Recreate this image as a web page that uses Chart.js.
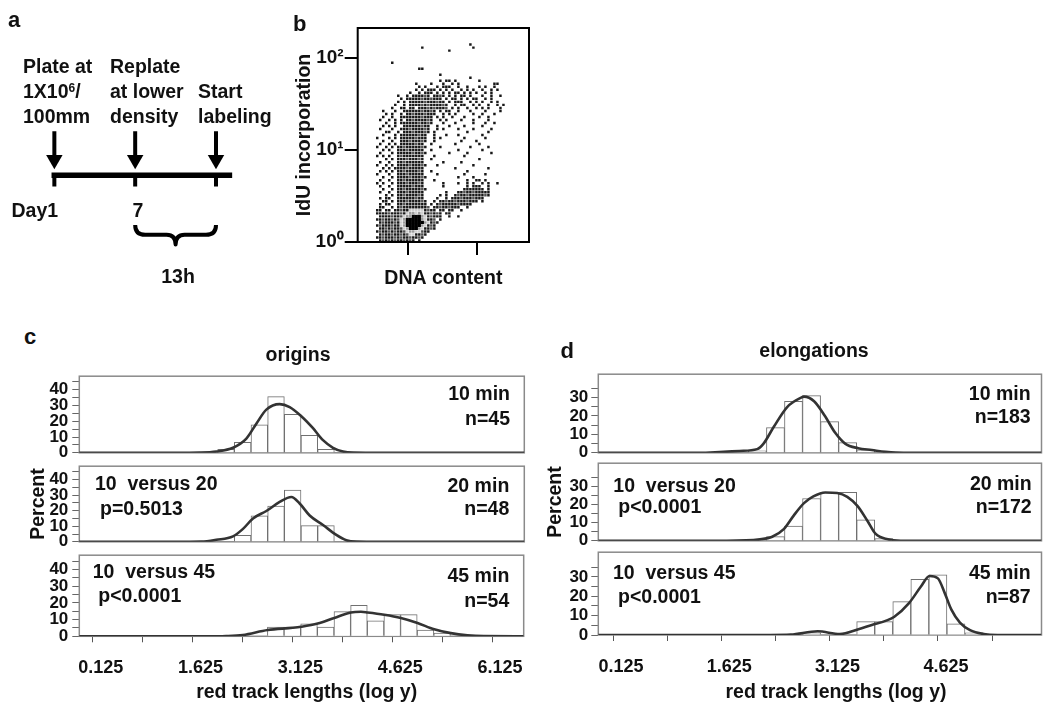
<!DOCTYPE html>
<html lang="en">
<head>
<meta charset="UTF-8">
<title>Replication labeling figure</title>
<script src="https://cdn.jsdelivr.net/npm/chart.js"></script>
<style>
  body { margin: 0; background: #fff; }
  #fig { position: relative; width: 1050px; height: 714px; overflow: hidden;
         font-family: "Liberation Sans", Arial, sans-serif; font-weight: bold; color: #111; }
  #fig canvas { position: absolute; }
  .t { position: absolute; white-space: pre; font-size: 19.5px; line-height: 25px; }
  .t sup { font-size: 12px; vertical-align: 6px; line-height: 0; }
</style>
</head>
<body>
<div id="fig"></div>
<script>
// ---------------- panel a : schematic timeline ----------------
const stepPos = [0, 1, 2];            // plate, replate, start labeling
const dayLabels = ['Day1', '7', ''];
const braceFrom = 1, braceTo = 2;
const braceLabel = '13h';

// ---------------- panel b : IdU incorporation vs DNA content ----------------
const dnaRange = [0.54, 5.51];
const dnaTicks = [2, 4];
const iduRange = [1, 212];
const iduTicks = [1, 10, 100];
const iduTickLabels = ['10⁰', '10¹', '10²'];
const cytoLogTop = 2.326;   // log10 of the top of the IdU axis
const cytoCols = 57, cytoRows = 71;
// density, one char per cell (top row = highest IdU)
// '#' dark dot, '+' grey dot, 'o' / '-' light halo, '@' black core
const cytoGrid = [
  '', '', '', '', '',
  '          |          |          |       #',
  '          |          | #        |        #',
  '          |          |          |#',
  '', '', '',
  '          | #',
  '',
  '          |          |##',
  '',
  '          |          |       #',
  '          |          |          |       #',
  '          |          |       # #|# #       |#',
  '          |         #|    #   # | # #      |     ##',
  '          |          |# #   # ##|#  #  #   |# #  #',
  '          |         #| # ### # #| #  # # # | #  # #',
  '          |       #  |# ### # # |# ## # # #|  # #',
  '          |   #  # ##|##+# ##+# |# # ## #  | #  #  #',
  '          |    # ####|#+##+### #| ## # # ##|  # # ',
  '          |   # # ###|##+###+## |# ###  # #| #  # #',
  '          |  #  # ###|#+#+####+#|  # ##  # |#  #  # #',
  '          | #  ## ## |###+#+###+| # #  #  #| # #   #',
  '        # |  #  #####|#+##+# # #|#  #   #  |  #    #',
  '         #| #  # ##+#|##+###  # |# #     # | #   #',
  '        # | #  ######|#+### # # | #   #    |#  # ',
  '       #  |# # # ##+#|###+#  # #|    #   # |   #',
  '         #|  # ######|+##+#   # |  #     # |  #  #',
  '        # |# #  #####|#+##  #   |#    #    | #',
  '       #  | #  ###+##|##+#  # # |   #    # |    #',
  '         #|#  # ###+#|##+# #    |      #   |   #',
  '        # |  # ######|+##  #   #|   #      | # ',
  '      #   |# # #####+|###  # #  |     #    |  # ',
  '        # | #  ###+##|#+#  #    |    #    #|',
  '       #  |# # #####+|##  #     |  #       |#  ',
  '      #  #| # ##+####|#+#    #  |       #  |   #',
  '        # |#  ###+###|##  #     |   #      | #',
  '       #  | # #####+#|#+#       |#     #   |    #',
  '      # # |#  #+#####|##   #    |     #    |',
  '         #| # ###+###|+#  #     |          |#',
  '       #  |#  ##+####|##      # |    #     |',
  '      #  #| # ####+##|#+#   #   |        # |',
  '        # |# ####+###|##        |  #       |   #',
  '       # #| # ##+####|+#  #     |      #   |',
  '      #   |#  ###+###|##    #   |     #    |  #',
  '        # | # ####+##|#+#       |   #    # |',
  '       #  |#  ##+####|##   #    |      #  #|# #',
  '      # # | # ###+###|+#      # |   #  # # | # #  #',
  '       #  |#  #####+#|##      # |      # ##|#  #',
  '        # | # ##+####|#+#       |     #####|## #',
  '       #  |#  ###+###|##       #|   ##+##+#|####',
  '         #| # ##+####|+#     # #|  #+##+###|##+#',
  '       # #|#  ######+|##    #  #| ###+###+#|##',
  '        ##| # ###+###|#+#  # ##+|##+###+###| #',
  '       # #|#  ##+####|### # #+##|###+####  |',
  '       ## | # #+#####|###+ ##+##|+###  #   |',
  '      ## #|# ##+##---|--#+## ## |##  #     |',
  '      ####|+###+#-oo-|o-##+#+# #|#         |',
  '       ###|#+##+-oo@@|@o-#+###  |#  #      |',
  '      ##+#|#+#+-o@@@@|@o-##+ #  |',
  '       #+#|##+#-o@@@@|@@o-#+#   |',
  '      #+##|#+##-o@@@@|@o-#+#    |',
  '       ##+|#+##+-o@@@|o-##+#    |',
  '      #+##|+#+##+-oo-|-+##      |',
  '       #+#|#+##+#+--#|#+#       |',
  '      ##+#|##+#+##+##|+#        |',
  '       #+#|+#+##+#+# |#         |'
];

// ---------------- panels c / d : red track length histograms ----------------
const binWidth = 0.25;
const trackTicks = [0.125, 0.875, 1.625, 2.375, 3.125, 3.875, 4.625, 5.375, 6.125];
const originsRange = [-0.076, 6.6];
const elongRange = [-0.079, 6.06];
const originsPctTicks = [0, 5, 10, 15, 20, 25, 30, 35, 40, 45];
const elongPctTicks = [0, 5, 10, 15, 20, 25, 30, 35];

const origins10Start = 2.0;
const origins10Pct = [2.2, 6.7, 17.8, 35.6, 24.4, 11.1, 2.2];
const origins10CurveX = [-0.08, 1.5, 1.73, 1.98, 2.23, 2.43, 2.58, 2.73, 2.93, 3.08, 3.255, 3.43, 3.58, 3.73, 3.88, 4.03, 4.3, 6.6];
const origins10CurveY = [0, 0, 0.1, 0.8, 3.2, 9, 18.5, 27.4, 30.9, 29, 23.2, 15.6, 8, 3.2, 0.8, 0.1, 0, 0];

const origins20Start = 2.25;
const origins20Pct = [4.2, 16.7, 22.9, 33.3, 10.4, 10.4];
const origins20CurveX = [-0.08, 1.5, 1.755, 1.98, 2.23, 2.38, 2.53, 2.73, 2.93, 3.105, 3.23, 3.38, 3.58, 3.78, 3.93, 4.08, 4.3, 6.6];
const origins20CurveY = [0, 0, 0.1, 1.3, 3.5, 8.3, 15, 19.8, 25.6, 28.8, 24.6, 16.9, 10.8, 4.4, 1, 0.1, 0, 0];

const origins45Start = 2.75;
const origins45Pct = [5.6, 5.6, 7.4, 5.6, 14.8, 18.5, 9.3, 13.0, 13.0, 3.7, 1.9];
const origins45CurveX = [-0.08, 2.0, 2.13, 2.38, 2.755, 3.13, 3.255, 3.505, 3.755, 4.005, 4.155, 4.255, 4.505, 4.755, 5.005, 5.255, 5.505, 5.755, 6.0, 6.6];
const origins45CurveY = [0, 0, 0.1, 0.8, 3.8, 5.1, 5.7, 7.6, 11.0, 14.3, 14.7, 14.3, 12.95, 11.0, 8.0, 4.2, 1.9, 0.6, 0.1, 0];

const elong10Start = 2.0;
const elong10Pct = [1.1, 13.7, 27.9, 31.1, 16.9, 5.5, 1.6];
const elong10CurveX = [-0.08, 1.32, 1.6, 1.88, 2.12, 2.21, 2.35, 2.54, 2.73, 2.77, 2.91, 3.06, 3.20, 3.34, 3.52, 3.71, 3.90, 4.04, 4.3, 6.06];
const elong10CurveY = [0, 0, 0.4, 1, 2, 5, 14, 25, 30, 30.5, 28, 20, 11, 5, 2.5, 1.5, 0.5, 0.1, 0, 0];

const elong20Start = 2.0;
const elong20Pct = [0.6, 2.3, 8.1, 23.3, 26.7, 26.7, 11.6, 1.2];
const elong20CurveX = [-0.08, 1.70, 2.16, 2.33, 2.49, 2.63, 2.77, 2.90, 3.065, 3.23, 3.37, 3.51, 3.65, 3.76, 3.93, 4.11, 4.4, 6.06];
const elong20CurveY = [0, 0, 0.8, 2.2, 6.4, 14, 20.7, 24.4, 26.6, 26.3, 24.2, 19.2, 10.9, 3.9, 0.8, 0, 0, 0];

const elong45Start = 2.75;
const elong45Pct = [1.1, 0, 0, 6.9, 6.9, 17.2, 28.7, 31.0, 5.7, 1.1];
const elong45CurveX = [-0.08, 2.3, 2.587, 2.96, 3.267, 3.524, 3.71, 3.90, 4.017, 4.228, 4.39, 4.51, 4.625, 4.72, 4.81, 4.93, 5.07, 5.26, 5.45, 6.06];
const elong45CurveY = [0, 0, 0.2, 1.9, 0.5, 3.0, 5.2, 7.3, 9.3, 16.6, 25, 30.4, 29.2, 21.6, 13.2, 6.4, 2.5, 0.5, 0, 0];

// ---------------- set-up ----------------
const FONT = '"Liberation Sans", Arial, sans-serif';
Chart.defaults.font.family = FONT;
Chart.defaults.font.weight = 'bold';
Chart.defaults.color = '#111';
Chart.defaults.animation = false;
Chart.defaults.responsive = false;
Chart.defaults.plugins.legend.display = false;
Chart.defaults.plugins.tooltip.enabled = false;

const fig = document.getElementById('fig');

function addCanvas(x, y, w, h) {
  const c = document.createElement('canvas');
  c.width = w; c.height = h;
  c.style.left = x + 'px'; c.style.top = y + 'px';
  c.style.width = w + 'px'; c.style.height = h + 'px';
  fig.appendChild(c);
  return c;
}

// y is the centre of the first line
function addText(content, x, y, align, size, html) {
  const d = document.createElement('div');
  d.className = 't';
  if (html) d.innerHTML = content; else d.textContent = content;
  const lh = size ? size * 1.28 : 25;
  if (size) { d.style.fontSize = size + 'px'; d.style.lineHeight = lh + 'px'; }
  d.style.left = x + 'px';
  d.style.top = (y - lh / 2) + 'px';
  const tx = align === 'center' ? '-50%' : align === 'right' ? '-100%' : '0';
  d.style.transform = 'translateX(' + tx + ')';
  fig.appendChild(d);
}

const framePlugin = {
  id: 'frame',
  beforeDatasetsDraw(chart, args, o) {
    if (o.after) return;
    drawFrame(chart, o);
  },
  afterDatasetsDraw(chart, args, o) {
    if (!o.after) return;
    drawFrame(chart, o);
  }
};
function drawFrame(chart, o) {
  const a = chart.chartArea, ctx = chart.ctx;
  ctx.save();
  ctx.strokeStyle = o.color;
  ctx.lineWidth = o.width;
  ctx.strokeRect(a.left, a.top, a.right - a.left, a.bottom - a.top);
  ctx.restore();
}

// ---------------- panel a ----------------
const bracePlugin = {
  id: 'brace',
  afterDatasetsDraw(chart) {
    const xs = chart.scales.x, ys = chart.scales.y, ctx = chart.ctx;
    const x1 = xs.getPixelForValue(braceFrom), x2 = xs.getPixelForValue(braceTo);
    const top = ys.getPixelForValue(-5.2), mid = ys.getPixelForValue(-6.25), tip = ys.getPixelForValue(-7.3);
    const cx = (x1 + x2) / 2;
    ctx.save();
    ctx.lineWidth = 4;
    ctx.strokeStyle = '#000';
    ctx.lineJoin = 'round';
    ctx.beginPath();
    ctx.moveTo(x1, top);
    ctx.quadraticCurveTo(x1, mid, x1 + 10, mid);
    ctx.lineTo(cx - 9, mid);
    ctx.quadraticCurveTo(cx, mid, cx, tip);
    ctx.quadraticCurveTo(cx, mid, cx + 9, mid);
    ctx.lineTo(x2 - 10, mid);
    ctx.quadraticCurveTo(x2, mid, x2, top);
    ctx.stroke();
    ctx.restore();
  }
};

new Chart(addCanvas(0, 0, 290, 300), {
  type: 'line',
  data: {
    datasets: [
      { data: [{ x: -0.035, y: 0.1 }, { x: 2.2, y: 0.1 }],
        borderColor: '#000', borderWidth: 5.5, pointRadius: 0 },
      { data: stepPos.flatMap(p => [{ x: p, y: 0 }, { x: p, y: -1.1 }, { x: p, y: null }]),
        borderColor: '#000', borderWidth: 4, pointRadius: 0, spanGaps: false },
      { data: stepPos.flatMap(p => [{ x: p, y: 4.8 }, { x: p, y: 2.0 }, { x: p, y: null }]),
        borderColor: '#000', borderWidth: 4, pointRadius: 0, spanGaps: false },
      { data: stepPos.map(p => ({ x: p, y: 1.75 })), showLine: false,
        pointStyle: 'triangle', pointRotation: 180, pointRadius: 9.5,
        pointBackgroundColor: '#000', pointBorderWidth: 0 }
    ]
  },
  options: {
    layout: { padding: 0 },
    scales: {
      x: { type: 'linear', display: false, min: -0.555, max: 2.798 },
      y: { type: 'linear', display: false, min: -12.2, max: 17.8 }
    }
  },
  plugins: [bracePlugin]
});

addText('a', 8, 20.5, 'left', 22);
addText('Plate at\n1X10<sup>6</sup>/\n100mm', 23, 66, 'left', 0, true);
addText('Replate\nat lower\ndensity', 110, 66, 'left');
addText('Start\nlabeling', 198, 91, 'left');
addText(dayLabels[0], 11.5, 210, 'left');
addText(dayLabels[1], 138, 210, 'center');
addText(braceLabel, 178, 276, 'center');

// ---------------- panel b ----------------
const shadeStyles = {
  '-': ['#cfcfcf', 1.8], 'o': ['#9a9a9a', 1.8], '+': ['#505050', 1.75],
  '#': ['#181818', 1.75], '@': ['#000000', 2.3]
};
const cytoCells = {};
cytoGrid.forEach((row, r) => {
  row.replace(/\|/g, '').split('').forEach((ch, c) => {
    if (ch === ' ') return;
    (cytoCells[ch] = cytoCells[ch] || []).push({
      x: dnaRange[0] + (c + 0.5) * (dnaRange[1] - dnaRange[0]) / cytoCols,
      y: Math.pow(10, cytoLogTop - (r + 0.5) * cytoLogTop / cytoRows)
    });
  });
});

new Chart(addCanvas(290, 0, 250, 300), {
  type: 'scatter',
  data: {
    datasets: Object.keys(shadeStyles).filter(k => cytoCells[k]).map(k => ({
      data: cytoCells[k], pointStyle: 'rect', pointRadius: shadeStyles[k][1],
      pointBackgroundColor: shadeStyles[k][0], pointBorderWidth: 0
    }))
  },
  options: {
    layout: { padding: { left: 0, top: 28, right: 11, bottom: 0 } },
    plugins: { frame: { color: '#000', width: 2, after: true } },
    scales: {
      x: {
        type: 'linear', min: dnaRange[0], max: dnaRange[1],
        afterBuildTicks: s => { s.ticks = dnaTicks.map(v => ({ value: v })); },
        grid: { drawOnChartArea: false, tickLength: 13, lineWidth: 2, color: '#000' },
        border: { display: false },
        ticks: { callback: () => '' },
        title: { display: true, text: 'DNA content', color: '#111',
                 font: { size: 19.5, weight: 'bold' }, padding: { top: 0, bottom: 10 } },
        afterFit: s => { s.height = 58; }
      },
      y: {
        type: 'logarithmic', min: iduRange[0], max: iduRange[1],
        afterBuildTicks: s => { s.ticks = iduTicks.map(v => ({ value: v })); },
        grid: { drawOnChartArea: false, tickLength: 13, lineWidth: 2, color: '#000' },
        border: { display: false },
        ticks: { autoSkip: false, padding: 1, color: '#111', font: { size: 19, weight: 'bold' },
                 callback: v => iduTickLabels[iduTicks.indexOf(v)] },
        title: { display: true, text: 'IdU incorporation', color: '#111',
                 font: { size: 19.5, weight: 'bold' }, padding: { top: 3.3, bottom: 0 } },
        afterFit: s => { s.width = 67.7; }
      }
    }
  },
  plugins: [framePlugin]
});
addText('b', 293, 24.5, 'left', 22);

// ---------------- panels c / d ----------------
const histLayout = {
  c: { left: 0, width: 530, axisW: 79.3, padRight: 5.7, tickPad: 4, percentPad: 26.6,
       tops: [372, 461.5, 550.7], bottoms: [457, 546, 636.3],
       range: originsRange, pctTicks: originsPctTicks, yMax: 48.6 },
  d: { left: 520, width: 525, axisW: 78.3, padRight: 3.5, tickPad: 3, percentPad: 23.6,
       tops: [370.8, 460, 549], bottoms: [455.8, 544.3, 635],
       range: elongRange, pctTicks: elongPctTicks, yMax: 42.7 }
};
const figBottom = 710;

function histPanel(col, row, start, pct, curveX, curveY) {
  const L = histLayout[col];
  const last = row === 2;
  const top = L.tops[row] - 10;
  const bottom = last ? figBottom : L.bottoms[row] + 10;
  const xTicks = trackTicks.filter(v => v <= L.range[1]);
  new Chart(addCanvas(L.left, top, L.width, bottom - top), {
    type: 'bar',
    data: {
      datasets: [
        { type: 'line', data: curveX.map((x, i) => ({ x, y: curveY[i] })),
          borderColor: '#333', borderWidth: 2.6, pointRadius: 0,
          cubicInterpolationMode: 'monotone', order: 0 },
        { type: 'bar',
          data: pct.map((y, i) => ({ x: start + (i + 0.5) * binWidth, y })).filter(p => p.y > 0),
          backgroundColor: '#fff', borderColor: '#707070', borderWidth: 1,
          barPercentage: 1, categoryPercentage: 1, order: 1 }
      ]
    },
    options: {
      layout: { padding: { top: 10, bottom: last ? 0 : 10, left: 0, right: L.padRight } },
      plugins: { frame: { color: '#8a8a8a', width: 1.5 } },
      scales: {
        x: {
          type: 'linear', min: L.range[0], max: L.range[1], offset: false, display: last,
          afterBuildTicks: s => { s.ticks = xTicks.map(v => ({ value: v })); },
          grid: { offset: false, drawOnChartArea: false, tickLength: 6, color: '#555' },
          border: { display: false },
          ticks: { autoSkip: false, maxRotation: 0, padding: 15, labelOffset: 8, color: '#111',
                   font: { size: 18, weight: 'bold' },
                   callback: (v, i) => i % 2 ? '' : v.toFixed(3) },
          afterFit: s => { if (last) s.height = figBottom - L.bottoms[row]; }
        },
        y: {
          min: 0, max: L.yMax,
          afterBuildTicks: s => { s.ticks = L.pctTicks.map(v => ({ value: v })); },
          grid: { drawOnChartArea: false, tickLength: 7, color: '#666' },
          border: { display: false },
          ticks: { autoSkip: false, padding: L.tickPad, color: '#111',
                   font: { size: 17, weight: 'bold' },
                   callback: v => v % 10 === 0 ? String(v) : '' },
          title: { display: row === 1, text: 'Percent', color: '#111',
                   font: { size: 19.5, weight: 'bold' }, padding: { top: L.percentPad, bottom: 0 } },
          afterFit: s => { s.width = L.axisW; }
        }
      }
    },
    plugins: [framePlugin]
  });
}

histPanel('c', 0, origins10Start, origins10Pct, origins10CurveX, origins10CurveY);
histPanel('c', 1, origins20Start, origins20Pct, origins20CurveX, origins20CurveY);
histPanel('c', 2, origins45Start, origins45Pct, origins45CurveX, origins45CurveY);
histPanel('d', 0, elong10Start, elong10Pct, elong10CurveX, elong10CurveY);
histPanel('d', 1, elong20Start, elong20Pct, elong20CurveX, elong20CurveY);
histPanel('d', 2, elong45Start, elong45Pct, elong45CurveX, elong45CurveY);

addText('c', 24, 337, 'left', 22);
addText('d', 560.5, 351, 'left', 22);
addText('origins', 298, 354, 'center');
addText('elongations', 814, 350, 'center');

addText('10 min', 510, 393.3, 'right');
addText('n=45', 510, 418.3, 'right');
addText('10  versus 20', 95, 483.3, 'left');
addText('p=0.5013', 100, 508.3, 'left');
addText('20 min', 509.3, 485, 'right');
addText('n=48', 509.3, 508, 'right');
addText('10  versus 45', 92.7, 571.7, 'left');
addText('p<0.0001', 98.3, 595, 'left');
addText('45 min', 509.3, 575, 'right');
addText('n=54', 509.3, 600, 'right');

addText('10 min', 1030.6, 393.3, 'right');
addText('n=183', 1030.6, 416.7, 'right');
addText('10  versus 20', 613.3, 485, 'left');
addText('p<0.0001', 618.3, 506.7, 'left');
addText('20 min', 1031.7, 483.3, 'right');
addText('n=172', 1031.7, 506.7, 'right');
addText('10  versus 45', 613, 572, 'left');
addText('p<0.0001', 618, 596, 'left');
addText('45 min', 1030.7, 572, 'right');
addText('n=87', 1030.7, 596, 'right');

addText('red track lengths (log y)', 306.7, 691, 'center');
addText('red track lengths (log y)', 836, 691, 'center');
</script>
</body>
</html>
